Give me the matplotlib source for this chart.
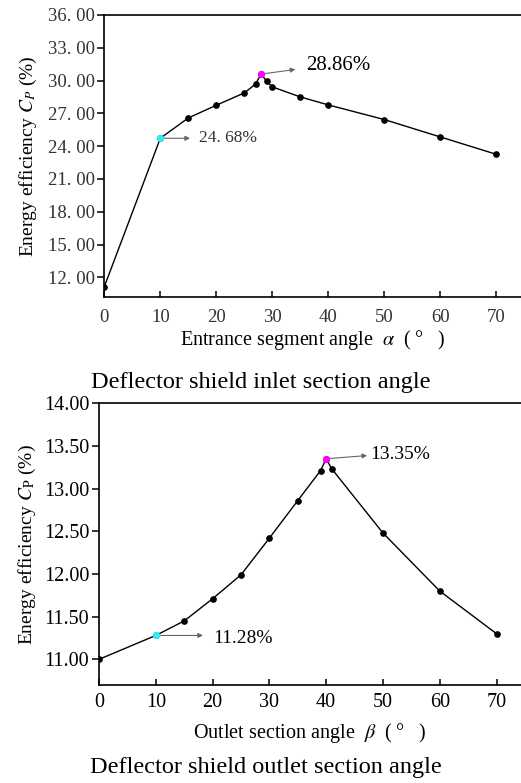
import matplotlib
matplotlib.use("Agg")
import matplotlib.pyplot as plt

plt.rcParams["font.family"] = ["Liberation Serif", "DejaVu Serif"]
plt.rcParams["mathtext.fontset"] = "stix"

# inlet section angle (top panel)
alpha = [0, 10, 15, 20, 25, 27, 28, 29, 30, 35, 40, 50, 60, 70]
cp_in = [11.14, 24.72, 26.58, 27.74, 28.87, 29.67, 30.59, 29.92, 29.42, 28.50, 27.77, 26.43, 24.84, 23.25]
in_yticks = [12, 15, 18, 21, 24, 27, 30, 33, 36]
in_yticklabels = ["12. 00", "15. 00", "18. 00", "21. 00", "24. 00", "27. 00", "30. 00", "33. 00", "36. 00"]

# outlet section angle (bottom panel)
beta = [0, 10, 15, 20, 25, 30, 35, 39, 40, 41, 50, 60, 70]
cp_out = [11.00, 11.28, 11.45, 11.71, 11.99, 12.42, 12.86, 13.21, 13.35, 13.23, 12.48, 11.80, 11.30]
out_yticks = [11.0, 11.5, 12.0, 12.5, 13.0, 13.5, 14.0]

xticks = [0, 10, 20, 30, 40, 50, 60, 70]
CYAN = "#33e8f2"
MAG = "#ff00ff"

fig = plt.figure(figsize=(5.21, 7.83), dpi=100)


def style(ax):
    ax.spines["right"].set_visible(False)
    for s in ["left", "bottom", "top"]:
        ax.spines[s].set_linewidth(1.2)
    ax.tick_params(axis="x", direction="in", length=4, width=1.1)
    ax.tick_params(axis="y", direction="out", length=5, width=1.1, pad=2)
    ax.set_xticks(xticks)


# ---- top panel ----
ax1 = fig.add_axes([0.2002, 0.6207, 0.7998, 0.3602])
ax1.plot(alpha, cp_in, "-", color="black", lw=1.0, marker="o", ms=3.8, zorder=3)
i10 = alpha.index(10)
i28 = alpha.index(28)
ax1.plot(alpha[i10], cp_in[i10], "o", color=CYAN, ms=4.2, zorder=4)
ax1.plot(alpha[i28], cp_in[i28], "o", color=MAG, ms=4.2, zorder=4)
ax1.set_xlim(0, 74.4)
ax1.set_ylim(10.2, 36)
style(ax1)
ax1.set_yticks(in_yticks)
ax1.set_yticklabels(in_yticklabels, color="#333333", fontsize=13.5)
ax1.set_xticklabels([str(v) for v in xticks], color="#333333", fontsize=13.5)
ax1.tick_params(axis="x", pad=9)
ax1.set_ylabel(r"Energy efficiency $C_P$ $\mathregular{(\%)}$", fontsize=14, labelpad=6)
ax1.set_xlabel(r"Entrance segment angle  $\alpha$  $\mathregular{(\ °\ \ \ )}$", fontsize=14.5, labelpad=1)

ax1.annotate("", xy=(15.8, cp_in[i10]), xytext=(alpha[i10], cp_in[i10]),
             arrowprops=dict(arrowstyle="-|>", color="#666666", lw=0.8, mutation_scale=7))
ax1.text(16.9, cp_in[i10], "24. 68%", fontsize=12.5, color="#333333", va="center", ha="left")
ax1.annotate("", xy=(34.6, 31.05), xytext=(alpha[i28], cp_in[i28]),
             arrowprops=dict(arrowstyle="-|>", color="#666666", lw=0.8, mutation_scale=7))
ax1.text(36.0, 31.35, "28.86%", fontsize=15, color="black", va="center", ha="left")

fig.text(0.5, 1 - 382 / 783, "Deflector shield inlet section angle", fontsize=17.5,
         ha="center", va="center")

# ---- bottom panel ----
ax2 = fig.add_axes([0.19, 0.1252, 0.81, 0.3598])
ax2.plot(beta, cp_out, "-", color="black", lw=1.0, marker="o", ms=3.8, zorder=3)
j10 = beta.index(10)
j40 = beta.index(40)
ax2.plot(beta[j10], cp_out[j10], "o", color=CYAN, ms=4.2, zorder=4)
ax2.plot(beta[j40], cp_out[j40], "o", color=MAG, ms=4.2, zorder=4)
ax2.set_xlim(0, 74.3)
ax2.set_ylim(10.7, 14.0)
style(ax2)
ax2.set_yticks(out_yticks)
ax2.set_yticklabels([f"{v:.2f}" for v in out_yticks], fontsize=14.5)
ax2.set_xticklabels([str(v) for v in xticks], fontsize=14.5)
ax2.tick_params(axis="x", pad=6)
ax2.set_ylabel(r"Energy efficiency $C_\mathrm{P}$ $\mathregular{(\%)}$", fontsize=14, labelpad=4)
ax2.set_xlabel(r"Outlet section angle  $\beta$  $\mathregular{(\ °\ \ \ )}$", fontsize=14.5, labelpad=6)

ax2.annotate("", xy=(47.7, 13.39), xytext=(beta[j40], cp_out[j40]),
             arrowprops=dict(arrowstyle="-|>", color="#666666", lw=0.8, mutation_scale=7))
ax2.text(47.7, 13.40, "13.35%", fontsize=14, color="black", va="center", ha="left")
ax2.annotate("", xy=(18.8, cp_out[j10]), xytext=(beta[j10], cp_out[j10]),
             arrowprops=dict(arrowstyle="-|>", color="#666666", lw=0.8, mutation_scale=7))
ax2.text(20.1, 11.25, "11.28%", fontsize=14, color="black", va="center", ha="left")

fig.text(0.51, 1 - 768 / 783, "Deflector shield outlet section angle", fontsize=17.5,
         ha="center", va="center")

fig.savefig("out.png", dpi=100)
